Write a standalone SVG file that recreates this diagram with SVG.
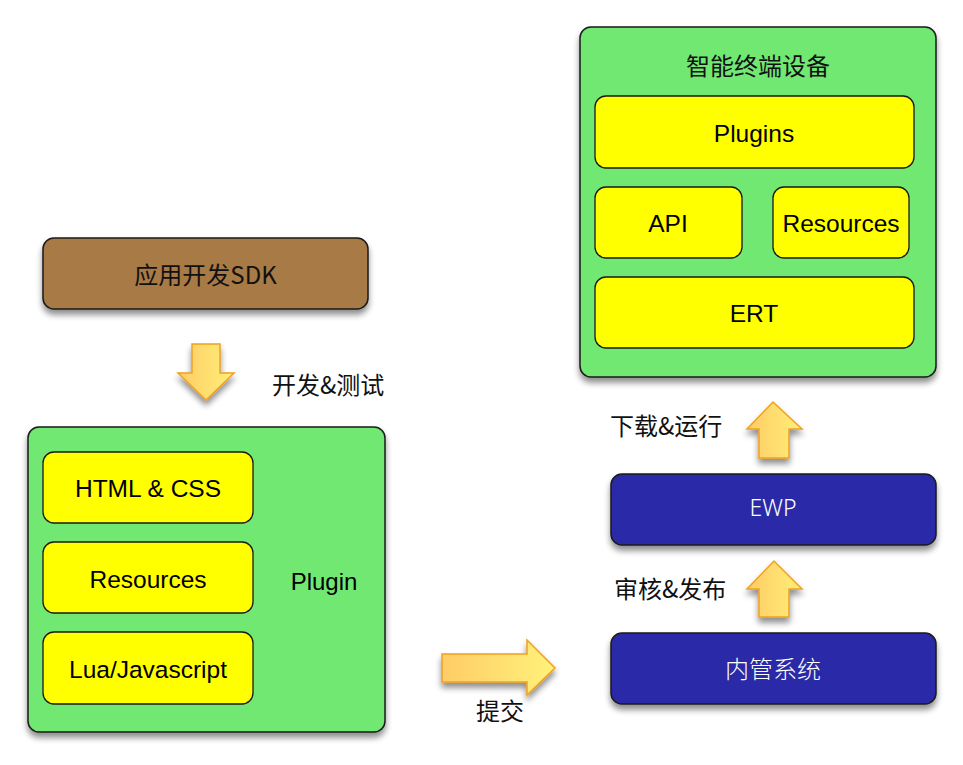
<svg xmlns="http://www.w3.org/2000/svg" width="963" height="765" viewBox="0 0 963 765">
<defs>
<filter id="sh" x="-10%" y="-10%" width="130%" height="140%">
<feGaussianBlur in="SourceAlpha" stdDeviation="3"/>
<feOffset dx="0" dy="5" result="b"/>
<feComponentTransfer><feFuncA type="linear" slope="0.45"/></feComponentTransfer>
<feMerge><feMergeNode/><feMergeNode in="SourceGraphic"/></feMerge>
</filter>
<linearGradient id="ah" x1="0" y1="0" x2="1" y2="0">
<stop offset="0" stop-color="#FFCC66"/>
<stop offset="1" stop-color="#FFF27A"/>
</linearGradient>
<linearGradient id="av" x1="0" y1="0" x2="1" y2="0">
<stop offset="0" stop-color="#FFCC66"/>
<stop offset="1" stop-color="#FFEE77"/>
</linearGradient>
</defs>
<style>
.outer{stroke:#1a1a1a;stroke-width:1.5}
.green{fill:#71E872}
.yel{fill:#FFFF00;stroke:#1a1a1a;stroke-width:1.3}
.blue{fill:#2B2BA8}
.brown{fill:#A87A44}
.arr{fill:url(#av);stroke:#F0A020;stroke-width:1.5;stroke-linejoin:miter}
.t{font-family:"Liberation Sans","Noto Sans CJK SC",sans-serif;font-size:24.5px;fill:#000;text-anchor:middle;dominant-baseline:central}
.cn{font-family:"Noto Sans CJK SC","Liberation Sans",sans-serif;font-size:24px;fill:#111;dominant-baseline:central}
.w{fill:#fff}
</style>
<rect width="963" height="765" fill="#fff"/>

<g id="sdk">
<rect x="43" y="238" width="325" height="71" rx="11" class="outer brown" filter="url(#sh)"/>
<text x="205.5" y="273" class="cn" text-anchor="middle">应用开发SDK</text>
</g>

<g id="plugin">
<rect x="28" y="427" width="357" height="305" rx="11" class="outer green" filter="url(#sh)"/>
<text x="324" y="581" class="t" style="font-size:24px">Plugin</text>
</g>
<g id="html">
<rect x="43" y="452" width="210" height="71" rx="11" class="yel"/>
<text x="148" y="488" class="t">HTML &amp; CSS</text>
</g>
<g id="resources-left">
<rect x="43" y="542" width="210" height="71" rx="11" class="yel"/>
<text x="148" y="579" class="t">Resources</text>
</g>
<g id="lua">
<rect x="43" y="632" width="210" height="72" rx="11" class="yel"/>
<text x="148" y="669" class="t">Lua/Javascript</text>
</g>

<g id="device">
<rect x="580" y="27" width="356" height="350" rx="11" class="outer green" filter="url(#sh)"/>
<text x="758" y="64" class="cn" text-anchor="middle">智能终端设备</text>
</g>
<g id="plugins">
<rect x="595" y="96" width="319" height="72" rx="11" class="yel"/>
<text x="754" y="133" class="t">Plugins</text>
</g>
<g id="api">
<rect x="595" y="187" width="147" height="71" rx="11" class="yel"/>
<text x="668" y="223" class="t">API</text>
</g>
<g id="resources-right">
<rect x="773" y="187" width="136" height="71" rx="11" class="yel"/>
<text x="841" y="223" class="t">Resources</text>
</g>
<g id="ert">
<rect x="595" y="277" width="319" height="71" rx="11" class="yel"/>
<text x="754" y="313" class="t">ERT</text>
</g>

<g id="ewp">
<rect x="611" y="474" width="325" height="71" rx="11" class="outer blue" filter="url(#sh)"/>
<text x="773" y="507" class="cn w" text-anchor="middle" style="font-family:'Noto Sans','Liberation Sans',sans-serif;font-size:23px;font-weight:300">EWP</text>
</g>
<g id="neiguan">
<rect x="611" y="633" width="325" height="71" rx="11" class="outer blue" filter="url(#sh)"/>
<text x="773" y="667" class="cn w" text-anchor="middle" style="font-weight:300">内管系统</text>
</g>

<g id="connectors">
<polygon class="arr" points="192,344 220,344 220,373 234,373 206,400 178,373 192,373" filter="url(#sh)"/>
<polygon class="arr" points="442,654 527,654 527,640 555,668 527,695 527,682 442,682" style="fill:url(#ah)" filter="url(#sh)"/>
<polygon class="arr" points="759,458 789,458 789,429 802,429 773,402 747,429 759,429" filter="url(#sh)"/>
<polygon class="arr" points="759,617 789,617 789,589 802,589 774,561 747,589 759,589" filter="url(#sh)"/>
<text x="272" y="383" class="cn">开发&amp;测试</text>
<text x="500" y="709" class="cn" text-anchor="middle">提交</text>
<text x="610" y="424" class="cn">下载&amp;运行</text>
<text x="614" y="587" class="cn">审核&amp;发布</text>
</g>
</svg>
